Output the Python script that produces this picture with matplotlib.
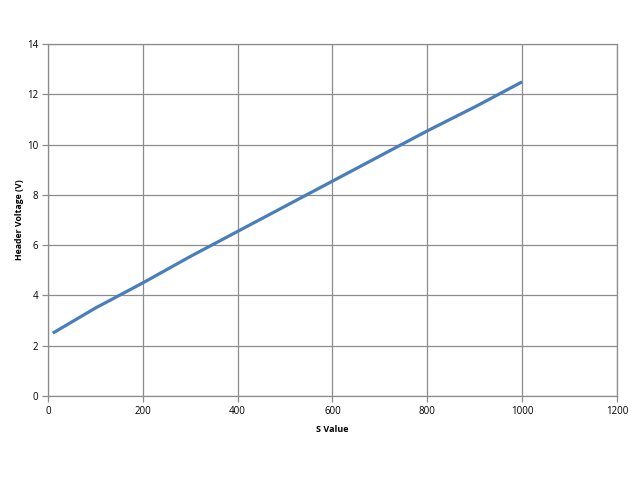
import numpy as np
import matplotlib
matplotlib.use('Agg')
import matplotlib.pyplot as plt

# S value vs header voltage
s_value = [10, 100, 200, 300, 400, 500, 600, 700, 800, 900, 1000]
voltage = [2.5, 3.5, 4.5, 5.55, 6.55, 7.55, 8.55, 9.55, 10.55, 11.5, 12.5]

plt.rcParams['font.family'] = ['Open Sans', 'DejaVu Sans']

fig = plt.figure(figsize=(6.4, 4.8), dpi=100)
ax = fig.add_axes([0.075, 0.175, 0.889, 0.733])

ax.plot(s_value, voltage, color='#4a7ebb', linewidth=2.3, solid_capstyle='butt')

ax.set_xlim(0, 1200)
ax.set_ylim(0, 14)
ax.set_xticks(np.arange(0, 1201, 200))
ax.set_yticks(np.arange(0, 15, 2))
ax.grid(True, color='#8c8c8c', linewidth=0.9)
ax.set_axisbelow(True)
for sp in ax.spines.values():
    sp.set_color('#8c8c8c')
    sp.set_linewidth(0.9)
ax.tick_params(axis='both', labelsize=7, colors='#8c8c8c', labelcolor='black',
               length=4, width=0.9, pad=3)

ax.set_xlabel('S Value', fontsize=6.5, fontweight='bold', labelpad=6)
ax.set_ylabel('Header Voltage (V)', fontsize=6.3, fontweight='bold', labelpad=2)

fig.savefig('out.png', dpi=100)
